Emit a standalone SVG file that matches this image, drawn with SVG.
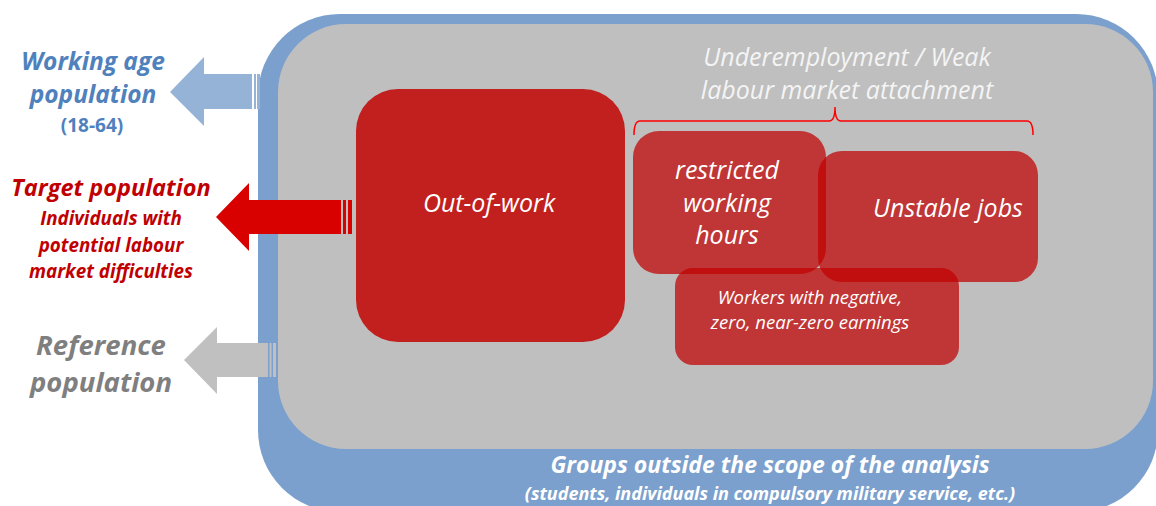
<svg xmlns="http://www.w3.org/2000/svg" width="1156" height="506" viewBox="0 0 1156 506">
<style>
.lbl{font-family:"Open Sans","Liberation Sans",sans-serif;font-style:italic;font-weight:bold;text-anchor:middle}
.wt{font-family:"Open Sans","Liberation Sans",sans-serif;font-style:italic;fill:#FFFFFF;text-anchor:middle}
.ub{fill:#C00000;fill-opacity:0.72}
</style>
<rect width="1156" height="506" fill="#FFFFFF"/>
<g id="outside-scope">
<rect x="258" y="14" width="900" height="498" rx="82" ry="82" fill="#7BA0CD"/>
<text class="lbl" x="770" y="473" font-size="23" fill="#FFFFFF">Groups outside the scope of the analysis</text>
<text class="lbl" x="770" y="500" font-size="18" fill="#FFFFFF">(students, individuals in compulsory military service, etc.)</text>
</g>
<g id="reference-area">
<rect x="278" y="24" width="875" height="425" rx="68" ry="68" fill="#BFBFBF"/>
</g>
<g id="connectors">
<g id="arrow-working-age" fill="#95B3D7">
<polygon points="170,92 204,57 204,74 252,74 252,109 204,109 204,126"/>
<rect x="254" y="74" width="2" height="35"/>
<rect x="257" y="74" width="3" height="35"/>
</g>
<g id="arrow-target" fill="#D90000">
<polygon points="216,217 249,183 249,200 341,200 341,234 249,234 249,251"/>
<rect x="343" y="200" width="3" height="34"/>
<rect x="348" y="200" width="4" height="34"/>
</g>
<g id="arrow-reference" fill="#C0C0C0">
<polygon points="184,360 217,327 217,343 268,343 268,377 217,377 217,394"/>
<rect x="269.5" y="343" width="2" height="34"/>
<rect x="273" y="343" width="3" height="34"/>
</g>
<path id="brace" d="M634,135 Q634,121 640,121 L829,121 Q835,121 835,107 Q835,121 841,121 L1027,121 Q1033,121 1033,135" fill="none" stroke="#FF0000" stroke-width="1.5"/>
</g>
<g id="working-age">
<text class="lbl" x="93" y="70" font-size="24.5" fill="#4F81BD">Working age</text>
<text class="lbl" x="93" y="103" font-size="24.5" fill="#4F81BD">population</text>
<text x="92" y="132" font-size="19" font-weight="bold" fill="#4F81BD" font-family="'Open Sans','Liberation Sans',sans-serif" text-anchor="middle">(18-64)</text>
</g>
<g id="target">
<text class="lbl" x="111" y="196" font-size="23.5" fill="#C00000">Target population</text>
<text class="lbl" x="111" y="225" font-size="18.8" fill="#C00000">Individuals with</text>
<text class="lbl" x="111" y="252" font-size="18.8" fill="#C00000">potential labour</text>
<text class="lbl" x="111" y="278" font-size="18.8" fill="#C00000">market difficulties</text>
</g>
<g id="reference">
<text class="lbl" x="101" y="355" font-size="27.5" fill="#7F7F7F">Reference</text>
<text class="lbl" x="101" y="392" font-size="27.5" fill="#7F7F7F">population</text>
</g>
<g id="underemployment">
<text class="wt" x="847" y="66" font-size="25" style="fill:#F4F4F4">Underemployment / Weak</text>
<text class="wt" x="847" y="99" font-size="25" style="fill:#F4F4F4">labour market attachment</text>
</g>
<g id="out-of-work">
<rect x="356" y="89" width="269" height="253" rx="42" ry="42" fill="#C21F1F"/>
<text class="wt" x="489" y="212" font-size="25">Out-of-work</text>
</g>
<g id="restricted-hours">
<rect class="ub" x="633" y="131" width="193" height="143" rx="26" ry="26"/>
<text class="wt" x="727" y="179" font-size="25">restricted</text>
<text class="wt" x="727" y="212" font-size="25">working</text>
<text class="wt" x="727" y="244" font-size="25">hours</text>
</g>
<g id="unstable-jobs">
<rect class="ub" x="818" y="151" width="220" height="131" rx="24" ry="24"/>
<text class="wt" x="948" y="217" font-size="25">Unstable jobs</text>
</g>
<g id="low-earnings">
<rect class="ub" x="675" y="268" width="284" height="97" rx="18" ry="18"/>
<text class="wt" x="810" y="304" font-size="18.5">Workers with negative,</text>
<text class="wt" x="810" y="329" font-size="18.5">zero, near-zero earnings</text>
</g>
</svg>
